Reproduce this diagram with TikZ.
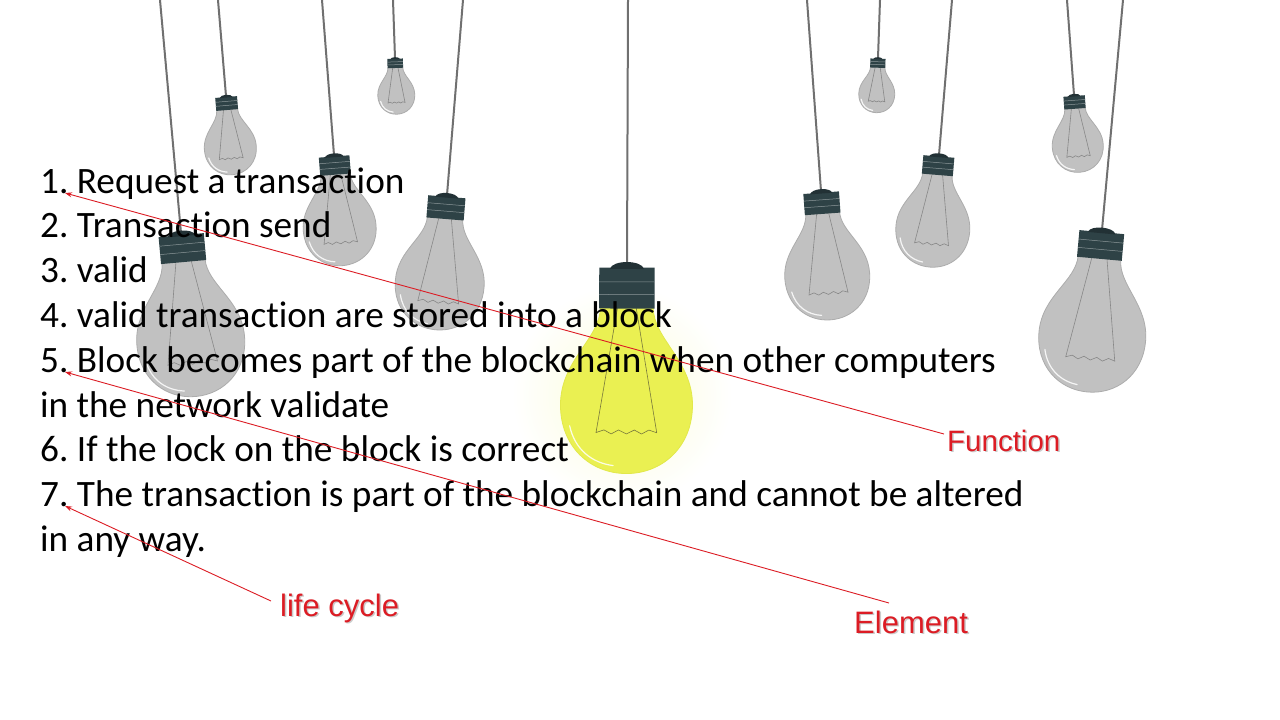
\documentclass[tikz,border=0pt]{standalone}
\usepackage{fontspec}
\setmainfont{Carlito}[Ligatures={NoCommon}]
\newfontfamily\arialf{Liberation Sans}
\usetikzlibrary{arrows.meta}
\frenchspacing
\definecolor{glassg}{RGB}{193,193,193}
\definecolor{glassedge}{RGB}{172,172,172}
\definecolor{sockc}{RGB}{46,66,70}
\definecolor{cordc}{RGB}{112,112,112}
\definecolor{filc}{RGB}{135,135,135}
\definecolor{bulby}{RGB}{234,240,82}
\definecolor{bulbyedge}{RGB}{226,232,74}
\definecolor{filyc}{RGB}{120,120,60}
\definecolor{redl}{RGB}{220,28,36}
\newcommand\mybulb[7]{% tx, sx, sy, W, glass, edge, socket height
  \pgfmathsetmacro\bang{atan((#2-#1)/#3)}
  \pgfmathsetmacro\hh{#7}
  \draw[cordc, line width=2pt] (#1,0) -- (#2,#3);
  \begin{scope}[shift={(#2,#3)}, rotate=\bang, scale=#4]
    \filldraw[fill=#5, draw=#6, line width=0.8pt]
      (-0.2,\hh) .. controls (-0.2,{\hh+0.24}) and (-0.5,{\hh+0.4}) .. (-0.5,{\hh+0.74})
      .. controls (-0.5,{\hh+1.06}) and (-0.27,{\hh+1.26}) .. (0,{\hh+1.26})
      .. controls (0.27,{\hh+1.26}) and (0.5,{\hh+1.06}) .. (0.5,{\hh+0.74})
      .. controls (0.5,{\hh+0.4}) and (0.2,{\hh+0.24}) .. (0.2,\hh) -- cycle;
    \draw[filc, line width=0.6pt] (-0.07,\hh) -- (-0.23,{\hh+0.95})
      -- (-0.17,{\hh+0.93}) -- (-0.115,{\hh+0.96}) -- (-0.06,{\hh+0.93}) -- (0,{\hh+0.96})
      -- (0.06,{\hh+0.93}) -- (0.115,{\hh+0.96}) -- (0.17,{\hh+0.93}) -- (0.23,{\hh+0.95}) -- (0.07,\hh);
    \draw[white, opacity=0.85, line width=1.2pt, line cap=round]
      (-0.43,{\hh+0.9}) .. controls (-0.39,{\hh+1.08}) and (-0.26,{\hh+1.18}) .. (-0.1,{\hh+1.2});
    \fill[sockc] (-0.21,0.02) rectangle (0.21,\hh+0.01);
    \fill[sockc!75!black] (-0.13,0.03) .. controls (-0.11,-0.04) and (0.11,-0.04) .. (0.13,0.03) -- cycle;
    \draw[sockc!55!white, line width=0.5pt] (-0.21,{\hh*0.4}) -- (0.21,{\hh*0.4}) (-0.21,{\hh*0.7}) -- (0.21,{\hh*0.7});
  \end{scope}
}
\tikzset{
  listline/.style={anchor=base west, inner sep=0pt, text=black, font=\fontsize{37.25}{44.8}\selectfont},
  lab/.style={anchor=base west, inner sep=0pt, text=redl, font=\arialf\fontsize{#1}{36}\selectfont},
  labsh/.style={anchor=base west, inner sep=0pt, text=black!45, opacity=0.45, font=\arialf\fontsize{#1}{36}\selectfont},
  redarrow/.style={draw=redl, line width=0.9pt, -{Stealth[length=7pt,width=5pt]}}
}
\begin{document}
\begin{tikzpicture}[x=1pt, y=-1pt]
\useasboundingbox[fill=white] (0,0) rectangle (1280,720);
% faint glow of lit bulb
\shade[inner color=bulby!22, outer color=white] (622,395) circle (110);
% bulbs
\mybulb{160}{181}{233}{108}{glassg}{glassedge}{0.26}
\mybulb{218}{226}{96}{52}{glassg}{glassedge}{0.26}
\mybulb{393}{395}{58}{37}{glassg}{glassedge}{0.26}
\mybulb{322}{334}{155}{73}{glassg}{glassedge}{0.26}
\mybulb{463}{447}{195}{89}{glassg}{glassedge}{0.26}
\mybulb{807}{821}{191}{85}{glassg}{glassedge}{0.26}
\mybulb{880}{878}{58}{36}{glassg}{glassedge}{0.26}
\mybulb{952}{939}{155}{74}{glassg}{glassedge}{0.26}
\mybulb{1067}{1074}{95}{51}{glassg}{glassedge}{0.26}
\mybulb{1123}{1102}{230}{107}{glassg}{glassedge}{0.26}
\colorlet{filc}{filyc}
\mybulb{628}{627}{265}{132}{bulby}{bulbyedge}{0.32}
% list text
\node[listline] (l1) at (40,193.0) {1. Request a transaction};
\node[listline] (l2) at (40,237.8) {2. Transaction send};
\node[listline] (l3) at (40,282.6) {3. valid};
\node[listline] (l4) at (40,327.4) {4. valid transaction are stored into a block};
\node[listline] (l5) at (40,372.2) {5. Block becomes part of the blockchain when other computers};
\node[listline] (l6) at (40,417.0) {in the network validate};
\node[listline] (l7) at (40,461.8) {6. If the lock on the block is correct};
\node[listline] (l8) at (40,506.6) {7. The transaction is part of the blockchain and cannot be altered};
\node[listline] (l9) at (40,551.4) {in any way.};
% labels with shadow
\node[labsh=29.5] at (948.5,452.5) {Function};
\node[lab=29.5] (fn) at (947,451) {Function};
\node[labsh=31] at (855.5,634.5) {Element};
\node[lab=31] (el) at (854,633) {Element};
\node[labsh=31] at (281.5,617.5) {life cycle};
\node[lab=31] (lc) at (280,616) {life cycle};
% arrow ends
\coordinate (t1) at (65,193);
\coordinate (t5) at (65,372);
\coordinate (t7) at (65,506);
\coordinate (fnS) at (944,434);
\coordinate (elS) at (889,603);
\coordinate (lcS) at (271,601);
\draw[redarrow] (fnS) -- (t1);
\draw[redarrow] (elS) -- (t5);
\draw[redarrow] (lcS) -- (t7);
\end{tikzpicture}
\end{document}
